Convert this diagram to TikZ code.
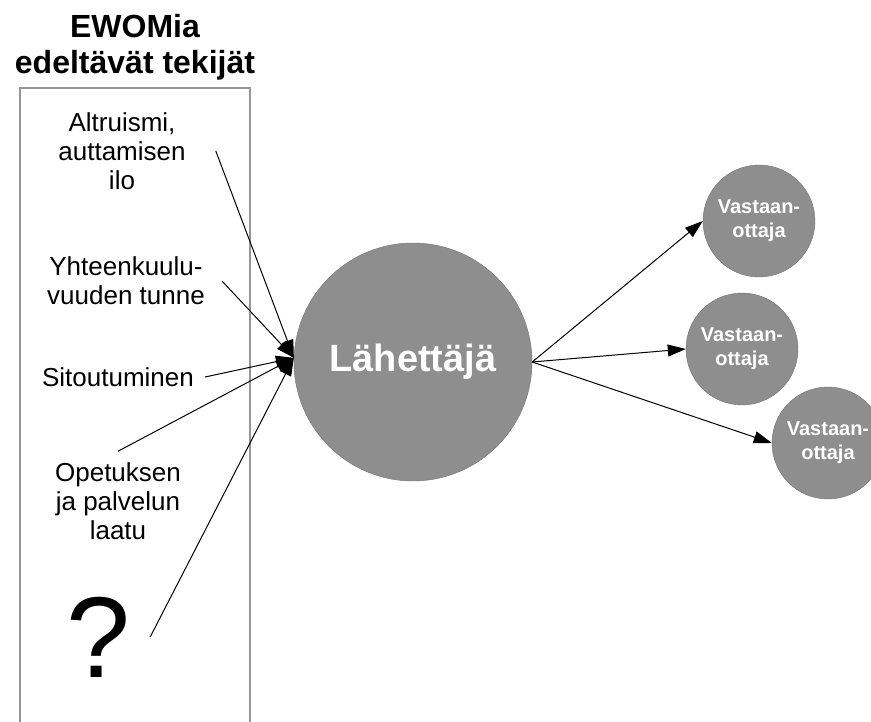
\documentclass[tikz,border=0pt]{standalone}
\usepackage{fontspec}
\setmainfont{Liberation Sans}
\usetikzlibrary{arrows.meta}
\definecolor{circfill}{RGB}{142,142,142}
\definecolor{circline}{RGB}{115,115,115}
\definecolor{framegray}{RGB}{150,150,150}

\begin{document}
\begin{tikzpicture}[
  x=1pt, y=-1pt,
  txt/.style={align=center, inner sep=2pt, font=\fontsize{26}{29}\selectfont},
  bigc/.style={circle, draw=circline, fill=circfill, minimum size=238pt, inner sep=0pt,
               text=white, font=\fontsize{38}{44}\selectfont\bfseries},
  smallc/.style={circle, draw=circline, fill=circfill, minimum size=112pt, inner sep=0pt,
                 align=center, text=white, font=\fontsize{20}{24}\selectfont\bfseries},
  arr/.style={line width=1pt, -{Triangle[length=18pt, width=12pt]}}
]
\useasboundingbox (0,0) rectangle (871,722);
\draw[framegray, line width=1.5pt] (20,722) -- (20,88) -- (250,88) -- (250,722);
\node[align=center, inner sep=0pt, font=\fontsize{32}{36}\selectfont\bfseries] (title) at (135, 47) {EWOMia\\edeltävät tekijät};
\node[txt] (alt)  at (122, 151) {Altruismi,\\auttamisen\\ilo};
\node[txt] (yht)  at (126, 281) {Yhteenkuulu-\\vuuden tunne};
\node[txt] (sit)  at (118, 377) {Sitoutuminen};
\node[txt] (ope)  at (118, 501) {Opetuksen\\ja palvelun\\laatu};
\node[txt, font=\fontsize{115}{120}\selectfont] (q) at (98, 637) {?};
\node[bigc]   (snd)  at (413, 362) {Lähettäjä};
\node[smallc] (rec1) at (759, 221) {Vastaan-\\ottaja};
\node[smallc] (rec2) at (742, 349) {Vastaan-\\ottaja};
\node[smallc] (rec3) at (828, 443) {Vastaan-\\ottaja};
\draw[arr] ([xshift=28pt]alt.east) -- (snd.178);
\draw[arr] ([xshift=15pt]yht.east) -- (snd.178);
\draw[arr] ([xshift=9pt]sit.east)  -- (snd.178);
\draw[arr] ([yshift=9pt]ope.north) -- (snd.178);
\draw[arr] ([xshift=18pt]q.east)   -- (snd.178);
\draw[arr] (snd.east) -- (rec1.west);
\draw[arr] (snd.east) -- (rec2.west);
\draw[arr] (snd.east) -- (rec3.west);
\end{tikzpicture}
\end{document}
